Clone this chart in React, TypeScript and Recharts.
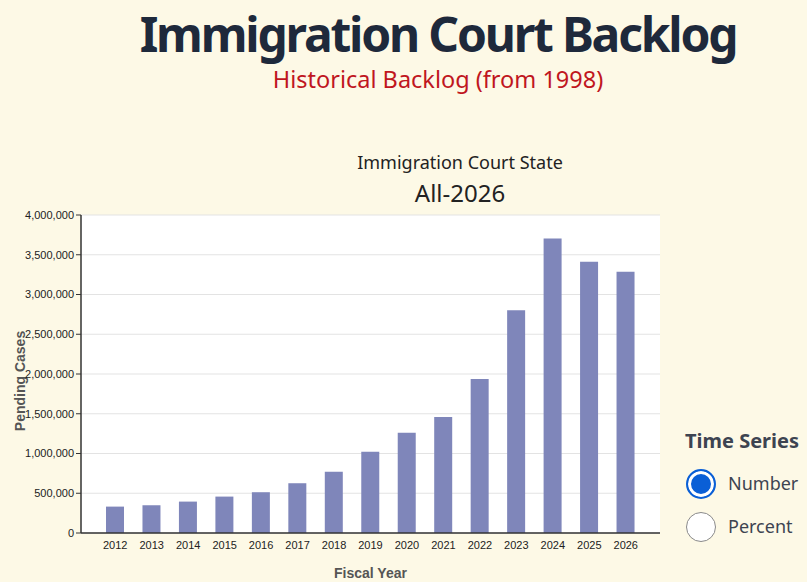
import React from "react";
import { Bar, BarChart, CartesianGrid, XAxis, YAxis } from "recharts";

// Pending immigration court cases at fiscal year end
const years = [
  "2012", "2013", "2014", "2015", "2016", "2017", "2018", "2019",
  "2020", "2021", "2022", "2023", "2024", "2025", "2026",
];
const pendingCases = [
  332000, 349000, 395000, 458000, 513000, 626000, 769000, 1021000,
  1261000, 1458000, 1937000, 2803000, 3705000, 3412000, 3287000,
];
const yTicks = [0, 500000, 1000000, 1500000, 2000000, 2500000, 3000000, 3500000, 4000000];
const seriesOptions = ["Number", "Percent"];

const data = years.map((year, i) => ({ year, pending: pendingCases[i] }));

const BG = "#fdf9e6";
const UI_FONT = "'Noto Sans', 'Open Sans', sans-serif";
const AXIS_FONT = "'Liberation Sans', Arial, sans-serif";

const YTitle = (props: any) => {
  const vb = props.viewBox || {};
  const cy = (vb.y ?? 15) + (vb.height ?? 318) / 2 + 7;
  const x = 20;
  return (
    <text
      x={x}
      y={cy}
      transform={`rotate(-90, ${x}, ${cy})`}
      textAnchor="middle"
      dominantBaseline="central"
      style={{ fontFamily: AXIS_FONT, fontSize: 14, fontWeight: "bold" }}
      fill="#555"
    >
      Pending Cases
    </text>
  );
};

function Radio({ checked, label, top }: { checked: boolean; label: string; top: number }) {
  return (
    <>
      <div
        style={{
          position: "absolute",
          left: 686,
          top,
          width: 30,
          height: 30,
          boxSizing: "border-box",
          borderRadius: "50%",
          border: checked ? "2px solid #0a5fd6" : "1.5px solid #8a8a8a",
          background: checked ? "#0a5fd6" : "#fff",
          boxShadow: checked ? "inset 0 0 0 3px #fff" : "none",
        }}
      />
      <div
        style={{
          position: "absolute",
          left: 728,
          top: top + 5,
          fontFamily: UI_FONT,
          fontSize: 18,
          lineHeight: "18px",
          color: "#3d4451",
        }}
      >
        {label}
      </div>
    </>
  );
}

const tickStyle = { fontSize: 11, fill: "#222", fontFamily: AXIS_FONT };

export default function App() {
  return (
    <div
      style={{
        position: "absolute",
        left: 0,
        top: 0,
        width: 807,
        height: 582,
        overflow: "hidden",
        background: BG,
      }}
    >
      <div
        style={{
          position: "absolute",
          left: 0,
          top: 6,
          width: 876,
          textAlign: "center",
          fontFamily: UI_FONT,
          fontWeight: 700,
          fontSize: 48,
          lineHeight: "56px",
          letterSpacing: -2.2,
          color: "#1e293b",
          whiteSpace: "nowrap",
        }}
      >
        Immigration Court Backlog
      </div>
      <div
        style={{
          position: "absolute",
          left: 0,
          top: 67,
          width: 876,
          textAlign: "center",
          fontFamily: UI_FONT,
          fontSize: 23.5,
          lineHeight: "24px",
          color: "#c0161e",
        }}
      >
        Historical Backlog (from 1998)
      </div>
      <div
        style={{
          position: "absolute",
          left: 0,
          top: 153,
          width: 920,
          textAlign: "center",
          fontFamily: UI_FONT,
          fontSize: 18,
          lineHeight: "18px",
          color: "#222",
        }}
      >
        Immigration Court State
      </div>
      <div
        style={{
          position: "absolute",
          left: 0,
          top: 181,
          width: 920,
          textAlign: "center",
          fontFamily: UI_FONT,
          fontSize: 24,
          lineHeight: "24px",
          color: "#222",
        }}
      >
        All-2026
      </div>

      <div style={{ position: "absolute", left: 0, top: 200 }}>
        <BarChart
          width={680}
          height={382}
          data={data}
          margin={{ top: 15, right: 20, bottom: 0, left: 0 }}
        >
          <CartesianGrid vertical={false} stroke="#e3e3e3" fill="#fff" fillOpacity={1} />
          <XAxis
            dataKey="year"
            height={49}
            padding={{ left: 16, right: 16 }}
            tickLine={false}
            axisLine={{ stroke: "#333", strokeWidth: 1.5 }}
            tick={tickStyle}
            label={{
              value: "Fiscal Year",
              position: "insideBottom",
              offset: 4,
              style: { fontFamily: AXIS_FONT, fontSize: 14, fontWeight: "bold" },
              fill: "#555",
            }}
          />
          <XAxis
            xAxisId="top"
            dataKey="year"
            orientation="top"
            height={0}
            tick={false}
            tickLine={false}
            axisLine={{ stroke: "#aaa" }}
          />
          <YAxis
            width={81}
            domain={[0, 4000000]}
            ticks={yTicks}
            tickSize={5}
            tickLine={{ stroke: "#333" }}
            axisLine={{ stroke: "#333", strokeWidth: 1.5 }}
            tick={tickStyle}
            tickFormatter={(v: number) => v.toLocaleString("en-US")}
            label={<YTitle />}
          />
          <YAxis
            yAxisId="right"
            orientation="right"
            width={0}
            tick={false}
            tickLine={false}
            axisLine={{ stroke: "#aaa" }}
          />
          <Bar dataKey="pending" fill="#7f86ba" barSize={18} isAnimationActive={false} />
        </BarChart>
      </div>

      <div
        style={{
          position: "absolute",
          left: 685,
          top: 431,
          fontFamily: UI_FONT,
          fontWeight: 700,
          fontSize: 20,
          lineHeight: "20px",
          color: "#3d4451",
        }}
      >
        Time Series
      </div>
      {seriesOptions.map((opt, i) => (
        <Radio key={opt} checked={i === 0} label={opt} top={469 + i * 43} />
      ))}
    </div>
  );
}
